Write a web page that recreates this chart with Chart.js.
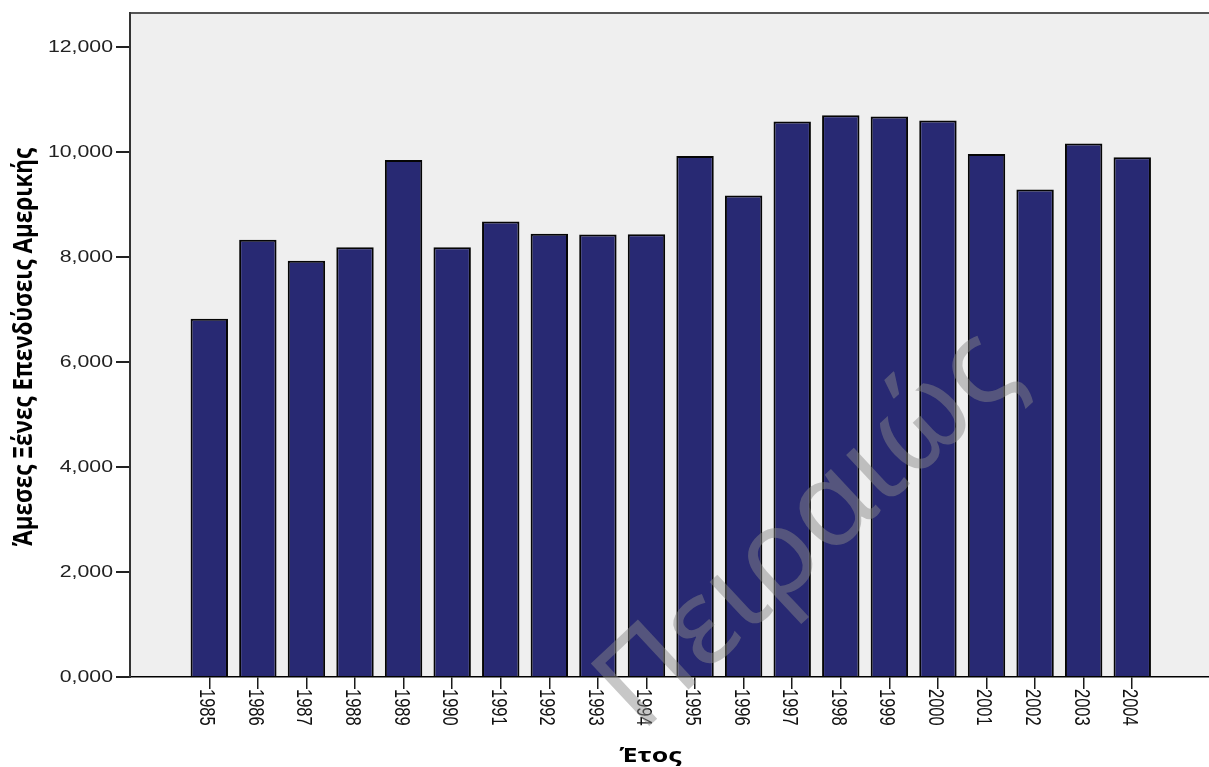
<!DOCTYPE html>
<html lang="el">
<head>
<meta charset="utf-8">
<title>Άμεσες Ξένες Επενδύσεις Αμερικής</title>
<script src="https://cdn.jsdelivr.net/npm/chart.js@4.4.1/dist/chart.umd.min.js"></script>
<style>
  html, body { margin: 0; padding: 0; background: #ffffff; }
  #wrap { width: 1209px; height: 767px; position: relative; }
  canvas { display: block; }
</style>
</head>
<body>
<div id="wrap"><canvas id="chart" width="1209" height="767"></canvas></div>
<script>
// Years on the horizontal axis
const years = [1985, 1986, 1987, 1988, 1989, 1990, 1991, 1992, 1993, 1994,
               1995, 1996, 1997, 1998, 1999, 2000, 2001, 2002, 2003, 2004];
// Foreign direct investment values per year
const fdiValues = [6818, 8322, 7922, 8183, 9844, 8183, 8670, 8436, 8423, 8430,
                   9920, 9165, 10573, 10695, 10668, 10592, 9958, 9279, 10154, 9896];
// Vertical axis ticks and their printed labels
const yTickValues = [0, 2000, 4000, 6000, 8000, 10000, 12000];
const yTickLabels = ['0,000', '2,000', '4,000', '6,000', '8,000', '10,000', '12,000'];
const yTitle = 'Άμεσες Ξένες Επενδύσεις Αμερικής';
const xTitle = 'Έτος';
const watermarkText = 'Πειραιώς';

const STRETCH = 1.33;        // text is drawn slightly widened horizontally
const PLOT_BG = '#efefef';
const BAR_FILL = '#282973';

const framePlugin = {
  id: 'frame',
  beforeDraw(chart) {
    const { ctx, chartArea: a } = chart;
    ctx.save();
    ctx.fillStyle = PLOT_BG;
    ctx.fillRect(a.left, a.top, a.right - a.left, a.bottom - a.top);
    ctx.strokeStyle = '#555555';
    ctx.lineWidth = 2;
    ctx.beginPath();
    ctx.moveTo(a.left, a.top);
    ctx.lineTo(a.right, a.top);
    ctx.stroke();
    ctx.restore();
  }
};

const labelsPlugin = {
  id: 'axisText',
  afterDraw(chart) {
    const { ctx, chartArea: a } = chart;
    const xs = chart.scales.x, ys = chart.scales.y;
    ctx.save();

    // vertical axis tick labels
    ctx.fillStyle = '#222222';
    ctx.font = '16px "Liberation Sans", Arial, sans-serif';
    ctx.textAlign = 'right';
    ctx.textBaseline = 'middle';
    yTickValues.forEach((v, i) => {
      const py = ys.getPixelForValue(v);
      ctx.save();
      ctx.translate(a.left - 17, py + 1);
      ctx.scale(STRETCH, 1);
      ctx.fillText(yTickLabels[i], 0, 0);
      ctx.restore();
    });

    // year labels, turned to read downwards
    ctx.fillStyle = '#111111';
    ctx.font = '16.5px "Liberation Sans", Arial, sans-serif';
    ctx.textAlign = 'left';
    ctx.textBaseline = 'middle';
    years.forEach((yr) => {
      const px = xs.getPixelForValue(yr);
      ctx.save();
      ctx.translate(px - 3, a.bottom + 12);
      ctx.rotate(Math.PI / 2);
      ctx.scale(1, STRETCH);
      ctx.fillText(String(yr), 0, 0);
      ctx.restore();
    });

    // axis titles
    ctx.fillStyle = '#000000';
    ctx.font = 'bold 22.5px "Open Sans", "Noto Sans", sans-serif';
    ctx.textAlign = 'center';
    ctx.textBaseline = 'middle';
    ctx.save();
    ctx.translate(25, (a.top + a.bottom) / 2 + 2);
    ctx.rotate(-Math.PI / 2);
    ctx.scale(1, 1.15);
    ctx.fillText(yTitle, 0, 0);
    ctx.restore();

    ctx.save();
    ctx.font = 'bold 20px "Open Sans", "Noto Sans", sans-serif';
    ctx.textBaseline = 'alphabetic';
    ctx.translate((a.left + a.right) / 2 - 19, 762);
    ctx.scale(STRETCH, 1);
    ctx.fillText(xTitle, 0, 0);
    ctx.restore();

    // faint diagonal watermark
    ctx.save();
    ctx.fillStyle = 'rgba(137,137,137,0.47)';
    ctx.font = '120px "Noto Sans", "Open Sans", sans-serif';
    ctx.textAlign = 'center';
    ctx.textBaseline = 'alphabetic';
    ctx.translate(832, 556);
    ctx.rotate(-0.75);
    ctx.fillText(watermarkText, 0, 0);
    ctx.restore();

    ctx.restore();
  }
};

new Chart(document.getElementById('chart'), {
  type: 'bar',
  data: {
    datasets: [{
      label: yTitle,
      data: years.map((yr, i) => ({ x: yr, y: fdiValues[i] })),
      backgroundColor: BAR_FILL,
      borderColor: '#050505',
      borderWidth: 2,
      borderSkipped: 'bottom',
      barPercentage: 0.77,
      categoryPercentage: 1.0
    }]
  },
  options: {
    responsive: false,
    devicePixelRatio: 1,
    animation: false,
    layout: { padding: { top: 13, left: 0, right: 0, bottom: 0 } },
    plugins: {
      legend: { display: false },
      tooltip: { enabled: false }
    },
    scales: {
      x: {
        type: 'linear',
        offset: false,
        min: 1983.368,
        max: 2005.58,
        afterBuildTicks(s) { s.ticks = years.map(v => ({ value: v })); },
        afterFit(s) { s.height = 90; },
        ticks: { display: false },
        grid: {
          offset: false,
          drawOnChartArea: false,
          drawTicks: true,
          tickLength: 12,
          color: '#1a1a1a',
          lineWidth: 1.5
        },
        border: { display: true, color: '#000000', width: 1.5 }
      },
      y: {
        type: 'linear',
        min: 0,
        max: 12640,
        afterBuildTicks(s) { s.ticks = yTickValues.map(v => ({ value: v })); },
        afterFit(s) { s.width = 130; },
        ticks: { display: false },
        grid: {
          drawOnChartArea: false,
          drawTicks: true,
          tickLength: 14,
          color: '#222222',
          lineWidth: 2
        },
        border: { display: true, color: '#333333', width: 2 }
      }
    }
  },
  plugins: [framePlugin, labelsPlugin]
});
</script>
</body>
</html>
